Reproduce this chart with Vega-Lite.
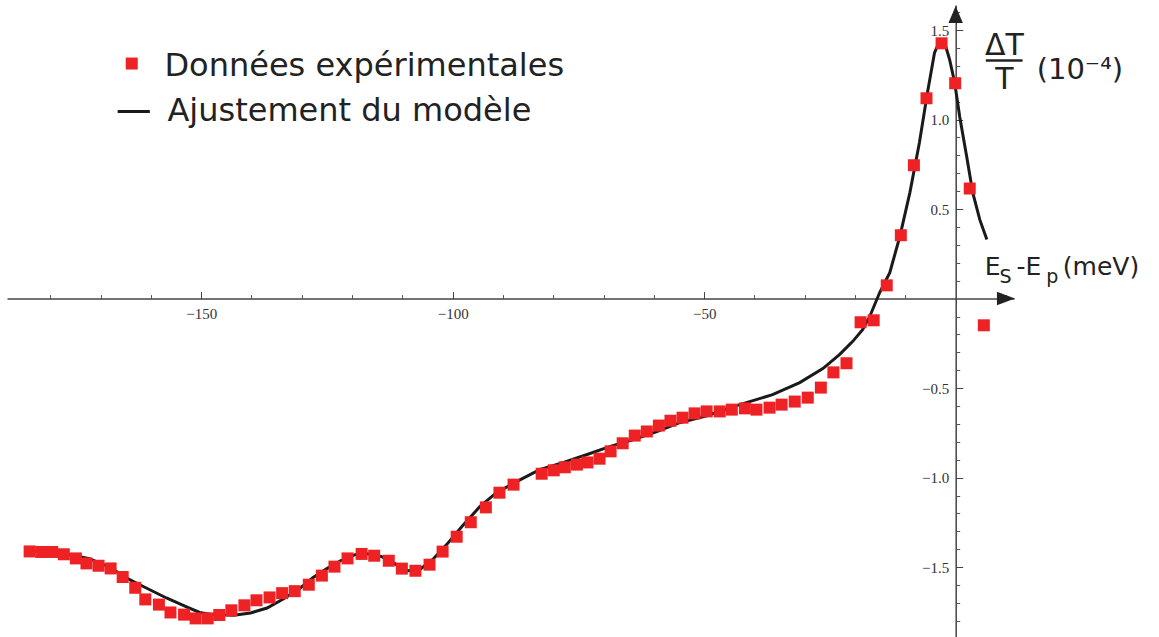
{
  "$schema": "https://vega.github.io/schema/vega-lite/v6.json",
  "autosize": "none",
  "width": 1007,
  "height": 632,
  "padding": {"left": 7, "top": 5, "right": 145, "bottom": 0},
  "background": "white",
  "config": {"view": {"stroke": null}},
  "resolve": {"scale": {"x": "shared", "y": "shared"}, "axis": {"x": "independent", "y": "independent"}},
  "datasets": {
    "curve": [
      {"x": -184.1, "y": -1.411}, {"x": -178.1, "y": -1.419}, {"x": -172.2, "y": -1.453}, {"x": -168.0, "y": -1.503},
      {"x": -164.2, "y": -1.570}, {"x": -162.2, "y": -1.598}, {"x": -156.9, "y": -1.672}, {"x": -152.9, "y": -1.722},
      {"x": -150.3, "y": -1.753}, {"x": -147.7, "y": -1.765}, {"x": -143.5, "y": -1.769}, {"x": -140.2, "y": -1.756},
      {"x": -136.9, "y": -1.728}, {"x": -133.6, "y": -1.676}, {"x": -130.2, "y": -1.615}, {"x": -127.8, "y": -1.559},
      {"x": -125.0, "y": -1.508}, {"x": -122.3, "y": -1.464}, {"x": -119.4, "y": -1.430}, {"x": -116.9, "y": -1.425},
      {"x": -114.1, "y": -1.441}, {"x": -111.5, "y": -1.480}, {"x": -108.9, "y": -1.520}, {"x": -106.6, "y": -1.514},
      {"x": -104.0, "y": -1.458}, {"x": -101.2, "y": -1.374}, {"x": -98.2, "y": -1.274}, {"x": -94.6, "y": -1.162},
      {"x": -91.3, "y": -1.084}, {"x": -87.3, "y": -1.022}, {"x": -82.7, "y": -0.955}, {"x": -78.1, "y": -0.916},
      {"x": -73.4, "y": -0.872}, {"x": -68.8, "y": -0.827}, {"x": -64.2, "y": -0.788}, {"x": -59.4, "y": -0.743},
      {"x": -54.9, "y": -0.693}, {"x": -49.5, "y": -0.654}, {"x": -42.9, "y": -0.592}, {"x": -36.4, "y": -0.536},
      {"x": -31.0, "y": -0.469}, {"x": -26.4, "y": -0.391}, {"x": -23.1, "y": -0.313}, {"x": -20.5, "y": -0.240},
      {"x": -18.5, "y": -0.173}, {"x": -17.1, "y": -0.101}, {"x": -15.1, "y": 0.034}, {"x": -13.1, "y": 0.145},
      {"x": -11.1, "y": 0.346}, {"x": -9.1, "y": 0.592}, {"x": -7.2, "y": 0.872}, {"x": -5.6, "y": 1.151},
      {"x": -4.2, "y": 1.374}, {"x": -3.2, "y": 1.436}, {"x": -2.2, "y": 1.430}, {"x": -1.2, "y": 1.335},
      {"x": -0.2, "y": 1.207}, {"x": 0.8, "y": 1.017}, {"x": 2.2, "y": 0.793}, {"x": 3.4, "y": 0.592},
      {"x": 4.8, "y": 0.441}, {"x": 6.2, "y": 0.330}
    ],
    "points": [
      {"x": -184.1, "y": -1.412}, {"x": -181.8, "y": -1.415}, {"x": -179.6, "y": -1.415}, {"x": -177.3, "y": -1.428},
      {"x": -174.9, "y": -1.451}, {"x": -172.8, "y": -1.479}, {"x": -170.4, "y": -1.492}, {"x": -168.0, "y": -1.507},
      {"x": -165.6, "y": -1.555}, {"x": -163.1, "y": -1.615}, {"x": -161.1, "y": -1.680}, {"x": -158.4, "y": -1.709},
      {"x": -156.1, "y": -1.753}, {"x": -153.4, "y": -1.765}, {"x": -151.1, "y": -1.786}, {"x": -148.7, "y": -1.786},
      {"x": -146.4, "y": -1.767}, {"x": -144.0, "y": -1.741}, {"x": -141.4, "y": -1.713}, {"x": -139.0, "y": -1.685},
      {"x": -136.4, "y": -1.669}, {"x": -133.9, "y": -1.645}, {"x": -131.4, "y": -1.634}, {"x": -128.6, "y": -1.598},
      {"x": -126.0, "y": -1.547}, {"x": -123.5, "y": -1.497}, {"x": -120.9, "y": -1.451}, {"x": -118.1, "y": -1.426},
      {"x": -115.6, "y": -1.436}, {"x": -112.7, "y": -1.464}, {"x": -110.1, "y": -1.508}, {"x": -107.4, "y": -1.520},
      {"x": -104.6, "y": -1.486}, {"x": -102.0, "y": -1.413}, {"x": -99.2, "y": -1.330}, {"x": -96.4, "y": -1.249},
      {"x": -93.4, "y": -1.166}, {"x": -90.7, "y": -1.084}, {"x": -87.9, "y": -1.039}, {"x": -82.3, "y": -0.978},
      {"x": -79.9, "y": -0.959}, {"x": -77.7, "y": -0.942}, {"x": -75.3, "y": -0.927}, {"x": -73.2, "y": -0.915},
      {"x": -70.8, "y": -0.894}, {"x": -68.6, "y": -0.853}, {"x": -66.2, "y": -0.808}, {"x": -63.8, "y": -0.765},
      {"x": -61.4, "y": -0.742}, {"x": -59.0, "y": -0.709}, {"x": -56.7, "y": -0.682}, {"x": -54.3, "y": -0.665},
      {"x": -51.9, "y": -0.641}, {"x": -49.5, "y": -0.630}, {"x": -46.9, "y": -0.630}, {"x": -44.5, "y": -0.620},
      {"x": -41.9, "y": -0.613}, {"x": -39.6, "y": -0.620}, {"x": -37.0, "y": -0.609}, {"x": -34.6, "y": -0.592},
      {"x": -32.0, "y": -0.575}, {"x": -29.4, "y": -0.553}, {"x": -26.8, "y": -0.497}, {"x": -24.3, "y": -0.412},
      {"x": -21.7, "y": -0.361}, {"x": -18.9, "y": -0.132}, {"x": -16.3, "y": -0.121}, {"x": -13.7, "y": 0.074},
      {"x": -10.9, "y": 0.354}, {"x": -8.3, "y": 0.745}, {"x": -5.8, "y": 1.119}, {"x": -2.8, "y": 1.426},
      {"x": -0.1, "y": 1.203}, {"x": 2.8, "y": 0.615}, {"x": 5.6, "y": -0.149}
    ]
  },
  "layer": [
    {
      "data": {"name": "curve"},
      "mark": {"type": "line", "color": "#1a1a1a", "strokeWidth": 3, "clip": false},
      "encoding": {
        "x": {
          "field": "x", "type": "quantitative",
          "scale": {"domain": [-188.6, 11.6], "nice": false, "zero": false},
          "axis": {
            "orient": "top", "offset": -293.6, "title": null, "grid": false,
            "values": [-150, -100, -50],
            "domain": true, "domainColor": "#444", "domainWidth": 1.5,
            "ticks": true, "tickColor": "#444", "tickWidth": 1, "tickSize": 7,
            "labels": false
          }
        },
        "y": {
          "field": "y", "type": "quantitative",
          "scale": {"domain": [-1.89, 1.64], "nice": false, "zero": false},
          "axis": {
            "orient": "right", "offset": -58.3, "title": null, "grid": false,
            "values": [-1.5, -1.0, -0.5, 0.5, 1.0, 1.5],
            "domain": true, "domainColor": "#444", "domainWidth": 1.5,
            "ticks": true, "tickColor": "#444", "tickWidth": 1, "tickSize": 7,
            "labels": false
          }
        }
      }
    },
    {
      "data": {"name": "points"},
      "mark": {"type": "point", "shape": "square", "filled": true, "size": 144, "color": "#ee2224", "opacity": 1, "clip": false},
      "encoding": {
        "x": {
          "field": "x", "type": "quantitative",
          "axis": {
            "orient": "top", "offset": -293.6, "title": null, "grid": false,
            "values": [-180, -170, -160, -140, -130, -120, -110, -90, -80, -70, -60, -40, -30, -20, -10, 10],
            "domain": false, "ticks": true, "tickColor": "#555", "tickWidth": 1, "tickSize": 4,
            "labels": false
          }
        },
        "y": {
          "field": "y", "type": "quantitative",
          "axis": {
            "orient": "right", "offset": -58.3, "title": null, "grid": false,
            "values": [-1.8, -1.7, -1.6, -1.4, -1.3, -1.2, -1.1, -0.9, -0.8, -0.7, -0.6, -0.4, -0.3, -0.2, -0.1, 0.1, 0.2, 0.3, 0.4, 0.6, 0.7, 0.8, 0.9, 1.1, 1.2, 1.3, 1.4, 1.6],
            "domain": false, "ticks": true, "tickColor": "#555", "tickWidth": 1, "tickSize": 4,
            "labels": false
          }
        }
      }
    },
    {
      "data": {"values": [{}]},
      "mark": {"type": "point", "shape": "M-1,-0.75L1,0L-1,0.75Z", "filled": true, "size": 324, "color": "#222", "opacity": 1, "clip": false},
      "encoding": {
        "x": {
          "datum": 10.0, "type": "quantitative",
          "axis": {
            "orient": "bottom", "offset": -338.4, "title": null, "grid": false,
            "values": [-150, -100, -50],
            "domain": false, "ticks": false, "labelPadding": 8,
            "labelFont": "Liberation Serif", "labelFontSize": 15, "labelColor": "#333",
            "labelFlush": false, "labelOverlap": false, "format": "d"
          }
        },
        "y": {"datum": 0, "type": "quantitative", "axis": null}
      }
    },
    {
      "data": {"values": [{}]},
      "mark": {"type": "point", "shape": "M-0.85,1L0,-1L0.85,1Z", "filled": true, "size": 289, "color": "#222", "opacity": 1, "clip": false},
      "encoding": {
        "x": {"datum": 0, "type": "quantitative", "axis": null},
        "y": {
          "datum": 1.587, "type": "quantitative",
          "axis": {
            "orient": "left", "offset": -948.7, "title": null, "grid": false,
            "values": [-1.5, -1.0, -0.5, 0.5, 1.0, 1.5],
            "domain": false, "ticks": false, "labelPadding": 7,
            "labelFont": "Liberation Serif", "labelFontSize": 15, "labelColor": "#333",
            "labelFlush": false, "labelOverlap": false, "format": ".1f"
          }
        }
      }
    },
    {
      "data": {"values": [{}]},
      "mark": {"type": "point", "shape": "square", "filled": true, "size": 144, "color": "#ee2224", "opacity": 1},
      "encoding": {"x": {"datum": -163.8, "axis": null}, "y": {"datum": 1.313, "axis": null}}
    },
    {
      "data": {"values": [{}]},
      "mark": {"type": "rule", "color": "#1a1a1a", "strokeWidth": 3},
      "encoding": {"x": {"datum": -166.6, "axis": null}, "x2": {"datum": -160.2}, "y": {"datum": 1.045, "axis": null}}
    },
    {
      "data": {"values": [{}]},
      "mark": {"type": "text", "text": "Données expérimentales", "font": "DejaVu Sans", "fontSize": 32, "color": "#222", "align": "left", "baseline": "alphabetic"},
      "encoding": {"x": {"datum": -157.3, "axis": null}, "y": {"datum": 1.246, "axis": null}}
    },
    {
      "data": {"values": [{}]},
      "mark": {"type": "text", "text": "Ajustement du modèle", "font": "DejaVu Sans", "fontSize": 32, "color": "#222", "align": "left", "baseline": "alphabetic"},
      "encoding": {"x": {"datum": -156.7, "axis": null}, "y": {"datum": 0.994, "axis": null}}
    },
    {
      "data": {"values": [{}]},
      "mark": {"type": "text", "text": "ΔT", "font": "DejaVu Sans", "fontSize": 30, "color": "#222", "align": "center", "baseline": "alphabetic", "clip": false},
      "encoding": {"x": {"datum": 9.7, "axis": null}, "y": {"datum": 1.363, "axis": null}}
    },
    {
      "data": {"values": [{}]},
      "mark": {"type": "rule", "color": "#222", "strokeWidth": 2.5, "clip": false},
      "encoding": {"x": {"datum": 6.0, "axis": null}, "x2": {"datum": 13.3}, "y": {"datum": 1.33, "axis": null}}
    },
    {
      "data": {"values": [{}]},
      "mark": {"type": "text", "text": "T", "font": "DejaVu Sans", "fontSize": 30, "color": "#222", "align": "center", "baseline": "alphabetic", "clip": false},
      "encoding": {"x": {"datum": 9.7, "axis": null}, "y": {"datum": 1.173, "axis": null}}
    },
    {
      "data": {"values": [{}]},
      "mark": {"type": "text", "text": "(10⁻⁴)", "font": "DejaVu Sans", "fontSize": 29, "color": "#222", "align": "left", "baseline": "alphabetic", "clip": false},
      "encoding": {"x": {"datum": 16.1, "axis": null}, "y": {"datum": 1.229, "axis": null}}
    },
    {
      "data": {"values": [{}]},
      "mark": {"type": "text", "text": "E", "font": "DejaVu Sans", "fontSize": 25, "color": "#222", "align": "left", "baseline": "alphabetic", "clip": false},
      "encoding": {"x": {"datum": 5.8, "axis": null}, "y": {"datum": 0.134, "axis": null}}
    },
    {
      "data": {"values": [{}]},
      "mark": {"type": "text", "text": "S", "font": "DejaVu Sans", "fontSize": 19, "color": "#222", "align": "left", "baseline": "alphabetic", "clip": false},
      "encoding": {"x": {"datum": 8.7, "axis": null}, "y": {"datum": 0.089, "axis": null}}
    },
    {
      "data": {"values": [{}]},
      "mark": {"type": "text", "text": "-E", "font": "DejaVu Sans", "fontSize": 25, "color": "#222", "align": "left", "baseline": "alphabetic", "clip": false},
      "encoding": {"x": {"datum": 12.1, "axis": null}, "y": {"datum": 0.134, "axis": null}}
    },
    {
      "data": {"values": [{}]},
      "mark": {"type": "text", "text": "p", "font": "DejaVu Sans", "fontSize": 19, "color": "#222", "align": "left", "baseline": "alphabetic", "clip": false},
      "encoding": {"x": {"datum": 18.0, "axis": null}, "y": {"datum": 0.089, "axis": null}}
    },
    {
      "data": {"values": [{}]},
      "mark": {"type": "text", "text": "(meV)", "font": "DejaVu Sans", "fontSize": 25, "color": "#222", "align": "left", "baseline": "alphabetic", "clip": false},
      "encoding": {"x": {"datum": 21.3, "axis": null}, "y": {"datum": 0.134, "axis": null}}
    }
  ]
}
